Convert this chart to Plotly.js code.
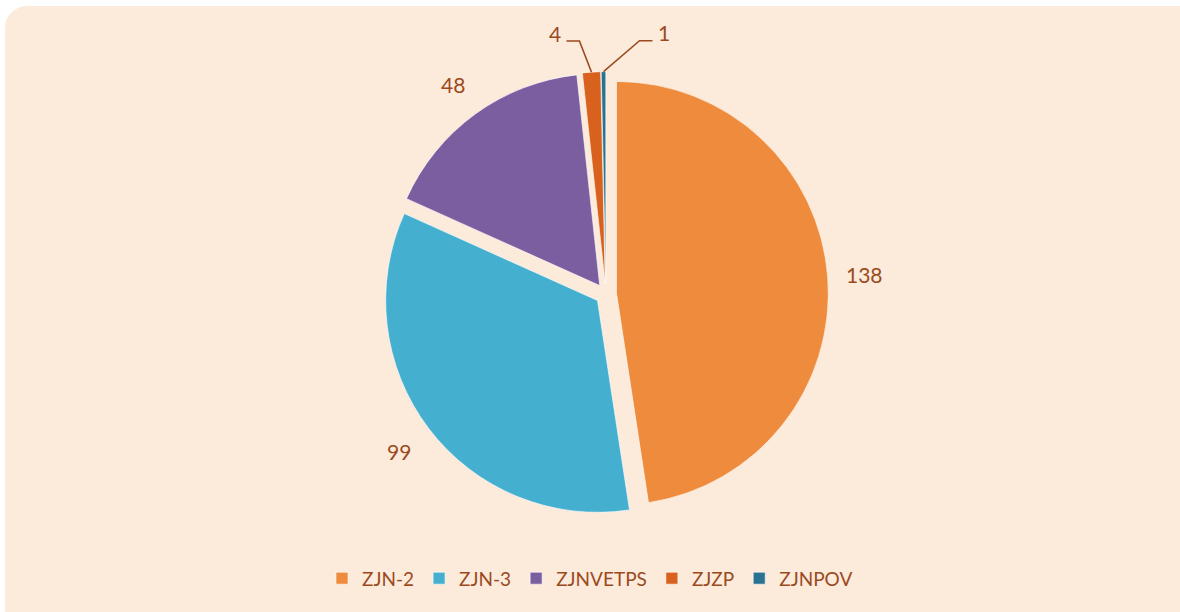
<!DOCTYPE html>
<html><head><meta charset="utf-8">
<script src="https://cdn.plot.ly/plotly-3.0.1.min.js"></script>
<style>
html,body{margin:0;padding:0;background:#fff;overflow:hidden;width:1180px;height:612px;}
#bg{position:absolute;left:5px;top:6px;width:1220px;height:640px;border-radius:22px;background:#FCEADB;}
#chart{position:absolute;left:0;top:0;width:1180px;height:612px;}
</style></head>
<body>
<div id="bg"></div>
<div id="chart"></div>
<script>
const categories = ["ZJN-2", "ZJN-3", "ZJNVETPS", "ZJZP", "ZJNPOV"];
const values = [138, 99, 48, 4, 1];
const colors = ["#EE8B3D", "#45AFCF", "#7B5EA0", "#D9611E", "#2A7390"];

const W = 1180, H = 612;
const FONT = "Lato, 'Open Sans', sans-serif";
const TXT = "#9A4A1E";
const PULL = 0.05;
const dom = {x: [0.325, 0.702], y: [0.156, 0.883]};

const trace = {
  type: "pie",
  labels: categories,
  values: values,
  sort: false,
  direction: "clockwise",
  rotation: 0,
  pull: values.map(() => PULL),
  marker: {colors: colors, line: {color: "rgba(255,255,255,0.6)", width: 1}},
  textinfo: "none",
  automargin: false,
  hoverinfo: "label+value",
  domain: dom
};

// label placement derived from the values (bisector angles of each slice)
const cx = (dom.x[0] + dom.x[1]) / 2 * W;
const cy = (1 - (dom.y[0] + dom.y[1]) / 2) * H;
const R = Math.min((dom.x[1] - dom.x[0]) * W, (dom.y[1] - dom.y[0]) * H) / 2 / (1 + PULL);
const total = values.reduce((a, b) => a + b, 0);
const px = x => x / W, py = y => 1 - y / H;

const annotations = [], shapes = [];
let cum = 0;
values.forEach((v, i) => {
  const mid = (cum + v / 2) / total * 2 * Math.PI;
  cum += v;
  const sx = Math.sin(mid), sy = -Math.cos(mid);
  const ox = cx + sx * R * PULL, oy = cy + sy * R * PULL;
  const frac = v / total;
  if (frac > 0.05) {
    annotations.push({x: px(ox + sx * R * 1.175), y: py(oy + sy * R * 1.175), xref: "paper", yref: "paper",
      text: String(v), showarrow: false, xanchor: "center", yanchor: "middle",
      font: {family: FONT, size: 21, color: TXT}});
  } else {
    const side = sx < -0.05 ? -1 : 1;
    const rx = ox + sx * R * 1.0, ry = oy + sy * R * 1.0;
    const ex = rx + (side < 0 ? -12 : 36), ey = ry - 31;
    const fx = ex + side * 13;
    shapes.push({type: "path", xref: "paper", yref: "paper",
      path: `M${px(rx)},${py(ry)} L${px(ex)},${py(ey)} L${px(fx)},${py(ey)}`,
      line: {color: TXT, width: 1.5}});
    annotations.push({x: px(fx + side * 3), y: py(ey - 8), xref: "paper", yref: "paper",
      text: String(v), showarrow: false, xanchor: side < 0 ? "right" : "left", yanchor: "middle",
      font: {family: FONT, size: 21, color: TXT}});
  }
});

const layout = {
  width: W, height: H,
  margin: {l: 0, r: 0, t: 0, b: 0},
  paper_bgcolor: "rgba(0,0,0,0)",
  plot_bgcolor: "rgba(0,0,0,0)",
  showlegend: true,
  legend: {orientation: "h", x: 0.5, xanchor: "center", y: 0.055, yanchor: "middle",
    font: {family: FONT, size: 19, color: TXT}, traceorder: "normal"},
  font: {family: FONT, color: TXT},
  annotations: annotations,
  shapes: shapes
};

Plotly.newPlot("chart", [trace], layout, {displayModeBar: false, staticPlot: true});
</script>
</body></html>
